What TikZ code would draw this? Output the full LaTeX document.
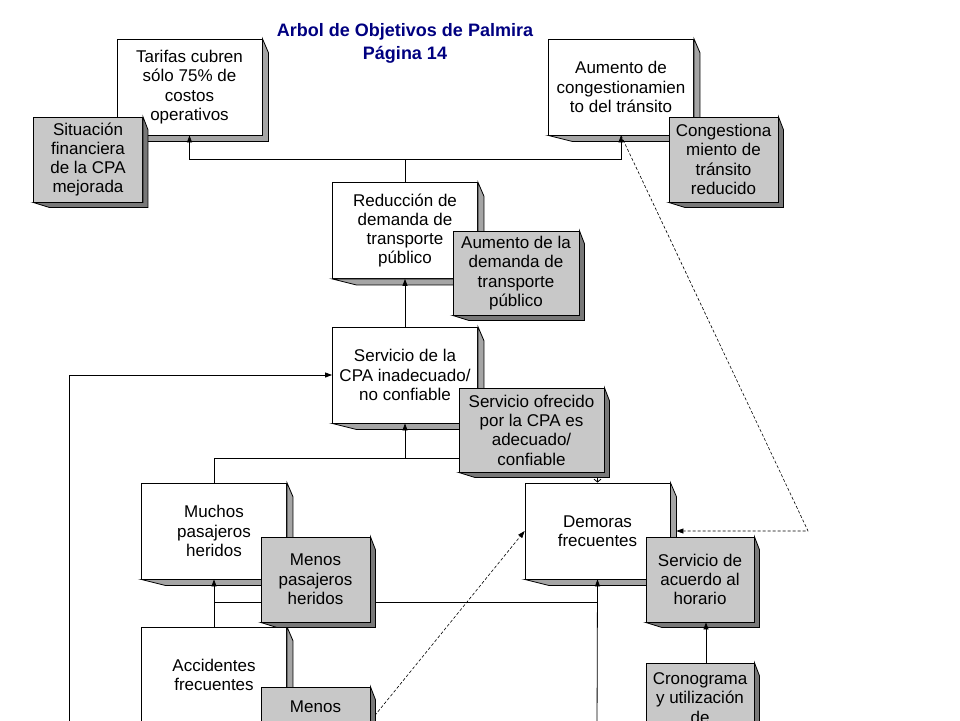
\documentclass[tikz,border=0pt]{standalone}
\usepackage{fontspec}
\setmainfont{Liberation Sans}
\usepackage{xcolor}
\usetikzlibrary{arrows.meta,calc}

\definecolor{titulo}{RGB}{0,0,128}
\definecolor{grisclaro}{RGB}{200,200,200}
\definecolor{grismedio}{RGB}{165,165,165}
\definecolor{grisoscuro}{RGB}{120,120,120}

\begin{document}
\begin{tikzpicture}[x=1pt, y=-1pt, line width=0.8pt,
    problema/.style={draw, fill=white, minimum width=145, minimum height=96, align=center, inner sep=0, font=\fontsize{17}{19.3}\selectfont},
    objetivo/.style={draw, fill=grisclaro, minimum width=109, minimum height=85, align=center, inner sep=0, font=\fontsize{17}{19.3}\selectfont},
    sombrap/.style={draw, fill=grismedio},
    sombrao/.style={draw, fill=grisoscuro},
    flecha/.style={-{Triangle[length=7pt,width=5pt]}},
    enlace/.style={line width=0.6pt, dash pattern=on 3pt off 2pt}]
        \useasboundingbox (0,0) rectangle (960,720);
        \clip (0,0) rectangle (960,720);

        % Title
        \node[font=\fontsize{18}{23}\selectfont\bfseries, text=titulo, align=center] (titulo) at (405,43.5) {Arbol de Objetivos de Palmira\\Página 14};

        % Problem tree
        \node[problema] (tar) at (189.5,87) {Tarifas cubren\\sólo 75\% de\\costos\\operativos};
        \node[problema] (aum) at (621,87) {Aumento de\\congestionamien\\to del tránsito};
        \node[problema] (red) at (405,230.5) {Reducción de\\demanda de\\transporte\\público};
        \node[problema] (ser) at (405,375) {Servicio de la\\CPA inadecuado/\\no confiable};
        \node[problema] (muc) at (214,531) {Muchos\\pasajeros\\heridos};
        \node[problema] (dem) at (597.5,531) {Demoras\\frecuentes};
        \node[problema] (acc) at (214,675) {Accidentes\\frecuentes};

        % Shadows
        \foreach \n in {tar,aum,red,ser,muc,dem,acc}
            \draw[sombrap] (\n.north east) -- ++(6,14) -- ($(\n.south east)+(6,6)$) -- ($(\n.south west)+(24,6)$) -- (\n.south west) -- (\n.south east) -- cycle;

        % Cause-effect links
        \coordinate (j1) at (405,159);
        \draw (red.north) -- (j1);
        \draw[flecha] (j1) -| (tar.south);
        \draw[flecha] (j1) -| (aum.south);
        \draw[flecha] (ser.north) -- (red.south);
        \coordinate (j2) at (405,458);
        \draw (muc.north) |- (j2);
        \draw[flecha] (j2) -- (ser.south);
        \draw[-{Straight Barb[length=3pt,width=7pt]}] (j2) -| (dem.north);
        \coordinate (j3) at (597,602);
        \draw[flecha] (acc.north) -- (muc.south);
        \draw (acc.north |- j3) -- (j3);
        \coordinate (b1) at (597,730);
        \draw[flecha] (b1) -- (dem.south);
        \coordinate (b2) at (69,730);
        \draw[flecha] (b2) |- (ser.west);

        % Dashed links
        \coordinate (b3) at (359,735);
        \draw[enlace, flecha] (b3) -- (dem.west);
        \coordinate (e1) at (808,531);
        \draw[enlace, flecha] (aum.south) -- (e1) -- ([xshift=6pt]dem.east);

        % Objectives
        \node[objetivo] (sit) at (88,159.5) {Situación\\financiera\\de la CPA\\mejorada};
        \node[objetivo] (con) at (723.5,159.5) {Congestiona\\miento de\\tránsito\\reducido};
        \node[objetivo, minimum width=126, minimum height=84] (aud) at (516,273) {Aumento de la\\demanda de\\transporte\\público};
        \node[objetivo, minimum width=145, minimum height=84] (ofr) at (531.5,430) {Servicio ofrecido\\por la CPA es\\adecuado/\\confiable};
        \node[objetivo] (men) at (315.5,579.5) {Menos\\pasajeros\\heridos};
        \node[objetivo, minimum width=108] (acu) at (700,579.5) {Servicio de\\acuerdo al\\horario};
        \node[objetivo, minimum height=40] (mnb) at (315.5,707) {Menos};
        \node[objetivo, minimum width=108, minimum height=70] (cro) at (700,698) {Cronograma\\y utilización\\de};

        \foreach \n in {sit,con,aud,ofr,men,acu,mnb,cro}
            \draw[sombrao] (\n.north east) -- ++(5,13) -- ($(\n.south east)+(5,5)$) -- ($(\n.south west)+(16,5)$) -- (\n.south west) -- (\n.south east) -- cycle;

        \draw[flecha] ([xshift=6pt]cro.north) -- ([xshift=6pt]acu.south);
    \end{tikzpicture}
\end{document}
